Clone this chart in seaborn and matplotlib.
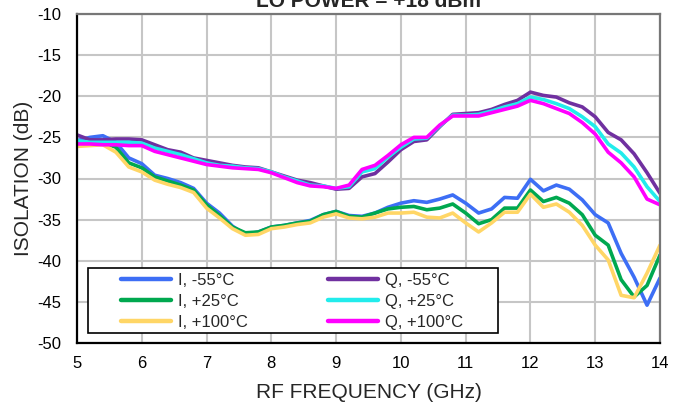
import numpy as np
import pandas as pd
import matplotlib
matplotlib.use("Agg")
import matplotlib.pyplot as plt
from matplotlib.patches import Rectangle
import seaborn as sns

# RF frequency sweep, 0.2 GHz steps
freq_ghz = [5.0, 5.2, 5.4, 5.6, 5.8, 6.0, 6.2, 6.4, 6.6, 6.8,
            7.0, 7.2, 7.4, 7.6, 7.8, 8.0, 8.2, 8.4, 8.6, 8.8,
            9.0, 9.2, 9.4, 9.6, 9.8, 10.0, 10.2, 10.4, 10.6, 10.8,
            11.0, 11.2, 11.4, 11.6, 11.8, 12.0, 12.2, 12.4, 12.6, 12.8,
            13.0, 13.2, 13.4, 13.6, 13.8, 14.0]

# Isolation (dB), I channel
i_m55 = [-25.4, -25.0, -24.8, -25.6, -27.5, -28.2, -29.6, -30.0, -30.5, -31.2,
         -33.0, -34.2, -35.8, -36.8, -36.5, -35.9, -35.7, -35.4, -35.1, -34.4,
         -34.0, -34.5, -34.6, -34.2, -33.5, -33.0, -32.7, -32.9, -32.5, -32.0,
         -33.0, -34.2, -33.7, -32.3, -32.4, -30.1, -31.5, -30.8, -31.3, -32.6,
         -34.4, -35.4, -39.1, -42.0, -45.4, -42.1]
i_p25 = [-25.7, -25.7, -25.6, -26.2, -28.1, -28.7, -29.8, -30.3, -30.8, -31.4,
         -33.2, -34.5, -35.9, -36.6, -36.5, -35.9, -35.7, -35.4, -35.2, -34.4,
         -34.0, -34.6, -34.7, -34.2, -33.7, -33.5, -33.4, -33.8, -33.6, -33.1,
         -34.2, -35.5, -35.0, -33.6, -33.6, -31.4, -32.8, -32.3, -33.0, -34.4,
         -36.9, -38.1, -42.3, -44.4, -43.0, -39.3]
i_p100 = [-26.1, -26.0, -25.9, -26.8, -28.6, -29.2, -30.2, -30.7, -31.1, -31.7,
          -33.6, -34.8, -36.1, -36.9, -36.8, -36.1, -35.9, -35.6, -35.4, -34.7,
          -34.3, -34.8, -34.9, -34.7, -34.2, -34.2, -34.1, -34.7, -34.8, -34.2,
          -35.4, -36.5, -35.4, -34.1, -34.1, -31.9, -33.5, -33.1, -34.1, -35.7,
          -38.1, -39.9, -44.2, -44.5, -41.5, -38.1]

# Isolation (dB), Q channel
q_m55 = [-24.7, -25.3, -25.3, -25.2, -25.2, -25.3, -25.9, -26.5, -26.8, -27.5,
         -27.8, -28.1, -28.4, -28.6, -28.7, -29.2, -29.7, -30.2, -30.5, -30.9,
         -31.3, -31.2, -29.8, -29.4, -28.0, -26.5, -25.5, -25.3, -23.7, -22.2,
         -22.1, -22.0, -21.6, -21.0, -20.5, -19.5, -19.9, -20.1, -20.8, -21.3,
         -22.5, -24.4, -25.3, -27.0, -29.3, -31.8]
q_p25 = [-25.4, -25.6, -25.6, -25.6, -25.6, -25.7, -26.3, -26.7, -27.1, -27.6,
         -28.1, -28.4, -28.5, -28.7, -28.8, -29.2, -29.8, -30.3, -30.8, -30.9,
         -31.2, -31.0, -29.2, -28.8, -27.4, -26.2, -25.2, -25.1, -23.6, -22.3,
         -22.3, -22.2, -21.8, -21.3, -20.9, -20.1, -20.4, -20.9, -21.5, -22.5,
         -23.7, -25.8, -26.9, -28.6, -31.0, -32.8]
q_p100 = [-25.8, -25.8, -25.9, -25.9, -26.0, -26.0, -26.7, -27.1, -27.5, -27.9,
          -28.3, -28.5, -28.7, -28.8, -28.9, -29.3, -29.9, -30.5, -30.9, -31.0,
          -31.2, -30.8, -28.9, -28.4, -27.2, -25.9, -25.0, -25.0, -23.5, -22.4,
          -22.4, -22.4, -22.0, -21.6, -21.2, -20.5, -20.9, -21.5, -22.1, -23.2,
          -24.6, -26.8, -28.1, -29.8, -32.5, -33.2]

series_labels = ["I, -55°C", "I, +25°C", "I, +100°C",
                 "Q, -55°C", "Q, +25°C", "Q, +100°C"]
series_values = [i_m55, i_p25, i_p100, q_m55, q_p25, q_p100]
series_colors = ["#3d6ef5", "#00a84f", "#ffd666",
                 "#7030a0", "#22ecec", "#ff00ff"]

x_ticks = [5, 6, 7, 8, 9, 10, 11, 12, 13, 14]
y_ticks = [-10, -15, -20, -25, -30, -35, -40, -45, -50]

df = pd.concat(
    [pd.DataFrame({"freq": freq_ghz, "iso": vals, "trace": name})
     for name, vals in zip(series_labels, series_values)],
    ignore_index=True,
)

sns.set_style("white")
plt.rcParams["font.family"] = ["Liberation Sans", "DejaVu Sans"]

fig = plt.figure(figsize=(6.76, 4.09), dpi=100)
ax = fig.add_axes([77 / 676, 1 - 343 / 409, 583 / 676, 329 / 409])

sns.lineplot(data=df, x="freq", y="iso", hue="trace",
             hue_order=series_labels,
             palette=dict(zip(series_labels, series_colors)),
             linewidth=2.6, ax=ax, sort=False, legend=True)

ax.set_xlim(5, 14)
ax.set_ylim(-50, -10)
ax.set_xticks(x_ticks)
ax.set_yticks(y_ticks)
ax.set_xticklabels([str(t) for t in x_ticks])
ax.set_yticklabels([str(t) for t in y_ticks])
ax.tick_params(axis="both", length=0, labelsize=12, colors="black")
ax.tick_params(axis="y", pad=11)
ax.tick_params(axis="x", pad=9)

ax.grid(True, color="#c6c6c6", linewidth=1.5)
ax.set_axisbelow(True)

for side in ("left", "bottom"):
    ax.spines[side].set_color("black")
    ax.spines[side].set_linewidth(1.6)
for side in ("top", "right"):
    ax.spines[side].set_color("#777777")
    ax.spines[side].set_linewidth(1.6)

ax.set_xlabel("RF FREQUENCY (GHz)", fontsize=15, labelpad=9)
ax.set_ylabel("ISOLATION (dB)", fontsize=15, labelpad=3)

fig.text(368 / 676, 1 - 7 / 409, "LO POWER = +18 dBm",
         ha="center", va="baseline", fontsize=15, fontweight="bold")

# Legend: boxed panel in the lower-left corner
old = ax.get_legend()
handles = list(old.legend_handles)
labels = [t.get_text() for t in old.get_texts()]
old.remove()
for h in handles:
    h.set_linewidth(3.2)

ax.add_patch(Rectangle((11 / 583, 10 / 329), 410 / 583, 65 / 329,
                       transform=ax.transAxes, facecolor="white",
                       edgecolor="black", linewidth=1.2, zorder=4))
ax.legend(handles, labels, ncol=2, frameon=False, loc="upper left",
          bbox_to_anchor=(44 / 583, 70 / 329), borderpad=0,
          borderaxespad=0, handlelength=3.0, handletextpad=0.42,
          columnspacing=4.8, labelspacing=0.35, fontsize=12)

fig.savefig("out.png", dpi=100)
